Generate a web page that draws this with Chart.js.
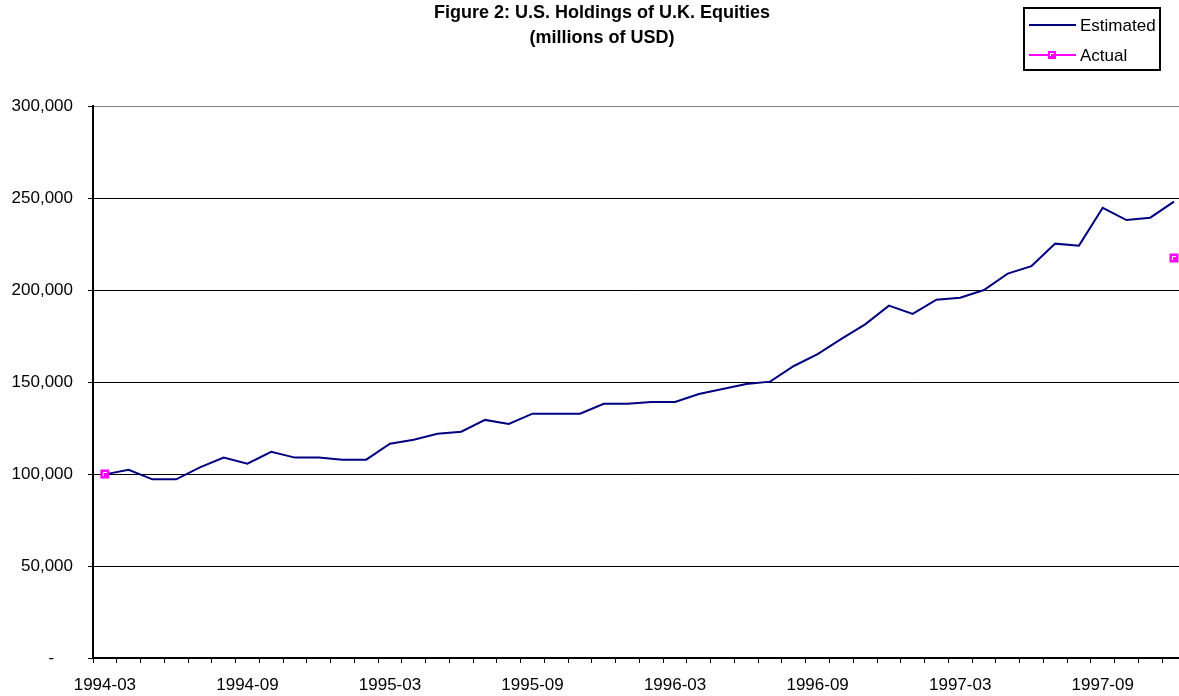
<!DOCTYPE html>
<html>
<head>
<meta charset="utf-8">
<script src="https://cdn.jsdelivr.net/npm/chart.js@4"></script>
<style>
  html, body { margin: 0; padding: 0; background: #fff; overflow: hidden; }
  #wrap { width: 1179px; height: 696px; overflow: hidden; position: relative; }
  #chart { position: absolute; left: 0; top: 0; width: 1186px; height: 696px; }
</style>
</head>
<body>
<div id="wrap"><canvas id="chart" width="1186" height="696"></canvas></div>
<script>
const months = [
    '1994-03', '1994-04', '1994-05', '1994-06', '1994-07', '1994-08', '1994-09', '1994-10', '1994-11', '1994-12',
    '1995-01', '1995-02', '1995-03', '1995-04', '1995-05', '1995-06', '1995-07', '1995-08', '1995-09', '1995-10', '1995-11', '1995-12',
    '1996-01', '1996-02', '1996-03', '1996-04', '1996-05', '1996-06', '1996-07', '1996-08', '1996-09', '1996-10', '1996-11', '1996-12',
    '1997-01', '1997-02', '1997-03', '1997-04', '1997-05', '1997-06', '1997-07', '1997-08', '1997-09', '1997-10', '1997-11', '1997-12'
];

// millions of USD
const estimated = [
    99800, 102300, 97100, 97100, 103600, 108900, 105600, 112100, 108900, 108900, 107800, 107800,
    116500, 118600, 121900, 123000, 129400, 127200, 132800, 132800, 132800, 138200, 138200, 139100,
    139100, 143500, 146200, 148900, 150200, 158700, 165200, 173400, 181300, 191500, 187000, 194700,
    195800, 200000, 208900, 213000, 225200, 224100, 244700, 238000, 239300, 248000
];

const actualMonths = ['1994-03', '1997-12'];
const actualValues = [100000, 217400];

const titleLines = ['Figure 2: U.S. Holdings of U.K. Equities', '(millions of USD)'];

const FONT = 'Arial, "Liberation Sans", sans-serif';
const NAVY = '#000080';
const MAGENTA = '#FF00FF';

Chart.defaults.font.family = FONT;
Chart.defaults.color = '#000';

// square marker with the little white corner the spreadsheet draws
function drawMarker(ctx, x, y) {
    ctx.fillStyle = MAGENTA;
    ctx.fillRect(x - 4.5, y - 4.5, 9, 9);
    ctx.strokeStyle = '#fff';
    ctx.lineWidth = 1;
    ctx.beginPath();
    ctx.moveTo(x - 1.5, y + 2);
    ctx.lineTo(x - 1.5, y - 1.5);
    ctx.lineTo(x + 2, y - 1.5);
    ctx.stroke();
}

// title + boxed legend, drawn the way the original spreadsheet chart has them
const overlay = {
    id: 'overlay',
    afterDatasetsDraw(chart) {
        const ctx = chart.ctx;
        ctx.save();
        chart.getDatasetMeta(1).data.forEach(pt => drawMarker(ctx, pt.x, pt.y));
        ctx.restore();
    },
    afterDraw(chart) {
        const ctx = chart.ctx;
        ctx.save();
        ctx.fillStyle = '#000';
        ctx.textAlign = 'center';
        ctx.textBaseline = 'middle';
        ctx.font = 'bold 18px ' + FONT;
        ctx.fillText(titleLines[0], 602, 13);
        ctx.fillText(titleLines[1], 602, 38);

        // legend box
        ctx.lineWidth = 2;
        ctx.strokeStyle = '#000';
        ctx.strokeRect(1024, 8, 136, 62);

        const ds = chart.data.datasets;
        ctx.lineWidth = 2;
        ctx.strokeStyle = ds[0].borderColor;
        ctx.beginPath();
        ctx.moveTo(1029, 25);
        ctx.lineTo(1076, 25);
        ctx.stroke();

        ctx.strokeStyle = ds[1].borderColor;
        ctx.beginPath();
        ctx.moveTo(1029, 55);
        ctx.lineTo(1076, 55);
        ctx.stroke();
        ctx.fillStyle = MAGENTA;
        ctx.fillRect(1048, 51, 8, 8);
        ctx.fillStyle = '#fff';
        ctx.fillRect(1050, 53, 4, 1);
        ctx.fillRect(1050, 53, 1, 3);

        ctx.fillStyle = '#000';
        ctx.textAlign = 'left';
        ctx.font = '17px ' + FONT;
        ctx.fillText(ds[0].label, 1080, 26);
        ctx.fillText(ds[1].label, 1080, 56);
        ctx.restore();
    }
};

new Chart(document.getElementById('chart').getContext('2d'), {
    type: 'line',
    data: {
        labels: months,
        datasets: [
            {
                label: 'Estimated',
                data: estimated,
                borderColor: NAVY,
                borderWidth: 2,
                pointRadius: 0,
                tension: 0
            },
            {
                label: 'Actual',
                data: actualMonths.map((m, i) => ({ x: m, y: actualValues[i] })),
                borderColor: MAGENTA,
                showLine: false,
                pointRadius: 0,
                pointBackgroundColor: MAGENTA
            }
        ]
    },
    options: {
        responsive: false,
        animation: false,
        devicePixelRatio: 1,
        layout: { padding: { top: 106, left: 0, right: 0, bottom: 0 } },
        plugins: {
            legend: { display: false },
            title: { display: false },
            tooltip: { enabled: false }
        },
        scales: {
            x: {
                type: 'category',
                offset: true,
                grid: {
                    offset: true,
                    drawOnChartArea: false,
                    drawTicks: true,
                    tickLength: 5,
                    color: '#000',
                    lineWidth: 1
                },
                border: { color: '#000', width: 2 },
                ticks: {
                    autoSkip: false,
                    maxRotation: 0,
                    color: '#000',
                    font: { size: 17 },
                    padding: 12,
                    callback: function (val, index) {
                        return index % 6 === 0 ? this.getLabelForValue(val) : '';
                    }
                },
                afterFit(scale) { scale.height = 38; }
            },
            y: {
                min: 0,
                max: 300000,
                grid: {
                    color: ctx => (ctx.tick && ctx.tick.value === 300000) ? '#808080' : '#000',
                    tickColor: '#000',
                    tickLength: 5,
                    lineWidth: 1
                },
                border: { color: '#000', width: 2 },
                ticks: {
                    stepSize: 50000,
                    color: '#000',
                    font: { size: 17 },
                    padding: 15,
                    callback: v => v === 0 ? '-    ' : v.toLocaleString('en-US')
                },
                afterFit(scale) { scale.width = 93; }
            }
        }
    },
    plugins: [overlay]
});
</script>
</body>
</html>
